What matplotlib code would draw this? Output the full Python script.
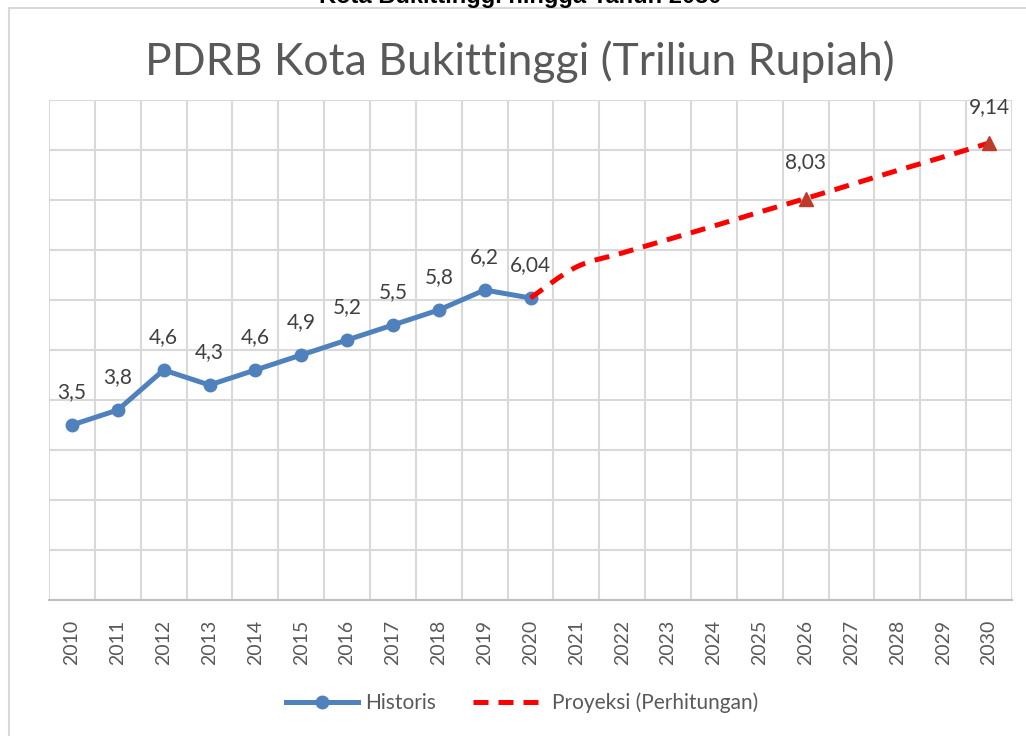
import matplotlib
matplotlib.use("Agg")
import matplotlib.pyplot as plt
from matplotlib.path import Path
from matplotlib.patches import PathPatch, Rectangle
from matplotlib.lines import Line2D

# ---- data ----
years = [str(y) for y in range(2010, 2031)]
hist_years = years[:11]
hist_values = [3.5, 3.8, 4.6, 4.3, 4.6, 4.9, 5.2, 5.5, 5.8, 6.2, 6.04]
hist_labels = ["3,5", "3,8", "4,6", "4,3", "4,6", "4,9", "5,2", "5,5", "5,8", "6,2", "6,04"]
proj_years = years[10:]
proj_values = [6.04, 6.66, 6.94, 7.21, 7.48, 7.76, 8.03, 8.31, 8.59, 8.86, 9.14]
proj_marked = {"2026": "8,03", "2030": "9,14"}
title = "PDRB Kota Bukittinggi (Triliun Rupiah)"
top_caption = "Kota Bukittinggi hingga Tahun 2030"

BLUE = "#4F81BD"
RED = "#FF0000"
DARKRED = "#C0392B"
GRID = "#D9D9D9"
TXT = "#595959"
LBL = "#404040"
FONT = "Lato"

fig = plt.figure(figsize=(10.26, 7.36), dpi=100)
W, H = 1026, 736
ax = fig.add_axes([49 / W, 1 - 600 / H, (1012 - 49) / W, (600 - 100) / H])

xi = {y: i for i, y in enumerate(years)}

# frame
fig.patches.append(Rectangle((9 / W, -0.1), 1.2, 1 - 8 / H + 0.1, transform=fig.transFigure,
                             fill=False, edgecolor="#D9D9D9", linewidth=1.5))

# top caption (partly outside the picture, as in the reference)
fig.text(520 / W, 1 - 3 / H, top_caption, ha="center", va="baseline",
         fontsize=17, fontweight="bold", family="Liberation Sans", color="black")

# title
fig.text(520 / W, 1 - 75 / H, title, ha="center", va="baseline",
         fontsize=32, family=FONT, color=TXT)

# axes style
ax.set_xlim(-0.5, len(years) - 0.5)
ax.set_ylim(0, 10)
ax.set_yticks(range(0, 11))
ax.set_yticklabels([])
ax.tick_params(axis="y", length=0)
ax.set_xticks(range(len(years)))
ax.set_xticklabels(years, rotation=90, fontsize=14, color=TXT, family=FONT)
ax.tick_params(axis="x", length=0, pad=14)
ax.set_xticks([i - 0.5 for i in range(len(years) + 1)], minor=True)
ax.tick_params(axis="x", which="minor", length=0)
ax.grid(True, which="major", axis="y", color=GRID, linewidth=1.5)
ax.grid(True, which="minor", axis="x", color=GRID, linewidth=1.5)
ax.set_axisbelow(True)
for s in ["top", "right", "left"]:
    ax.spines[s].set_visible(False)
ax.spines["bottom"].set_color("#BFBFBF")
ax.spines["bottom"].set_linewidth(1.5)

# historical series
hx = [xi[y] for y in hist_years]
ax.plot(hx, hist_values, color=BLUE, linewidth=3.6, marker="o", markersize=9,
        solid_capstyle="round", zorder=3)
for x, v, t in zip(hx, hist_values, hist_labels):
    ax.annotate(t, (x, v), xytext=(0, 24), textcoords="offset points", ha="center",
                va="center", fontsize=15, color=LBL, family=FONT)

# projection series, smoothed (Excel-style Catmull-Rom bezier)
px = [xi[y] for y in proj_years]
pts = list(zip(px, proj_values))
verts = [pts[0]]
codes = [Path.MOVETO]
n = len(pts)
for i in range(n - 1):
    p0 = pts[i - 1] if i > 0 else pts[i]
    p1 = pts[i]
    p2 = pts[i + 1]
    p3 = pts[i + 2] if i + 2 < n else pts[i + 1]
    c1 = (p1[0] + (p2[0] - p0[0]) / 6, p1[1] + (p2[1] - p0[1]) / 6)
    c2 = (p2[0] - (p3[0] - p1[0]) / 6, p2[1] - (p3[1] - p1[1]) / 6)
    verts += [c1, c2, p2]
    codes += [Path.CURVE4] * 3
ax.add_patch(PathPatch(Path(verts, codes), fill=False, edgecolor=RED, linewidth=3.6,
                       linestyle=(0, (3, 2)), zorder=4))
mx = [xi[y] for y in proj_marked]
mv = [proj_values[proj_years.index(y)] for y in proj_marked]
ax.plot(mx, mv, linestyle="none", marker="^", markersize=10, color=DARKRED, zorder=5)
for x, v, t in zip(mx, mv, proj_marked.values()):
    ax.annotate(t, (x, v), xytext=(0, 26), textcoords="offset points", ha="center",
                va="center", fontsize=15, color=LBL, family=FONT, annotation_clip=False)

# legend
h1 = Line2D([], [], color=BLUE, linewidth=3.6, marker="o", markersize=9)
h2 = Line2D([], [], color=RED, linewidth=3.6, linestyle=(0, (3, 2)))
leg = fig.legend([h1, h2], ["Historis", "Proyeksi (Perhitungan)"], loc="center",
                 bbox_to_anchor=(522 / W, 1 - 703 / H), ncol=2, frameon=False,
                 prop={"family": FONT, "size": 15}, handlelength=3.5, handletextpad=0.3,
                 columnspacing=1.8, labelcolor=TXT)

fig.savefig("out.png", dpi=100)
